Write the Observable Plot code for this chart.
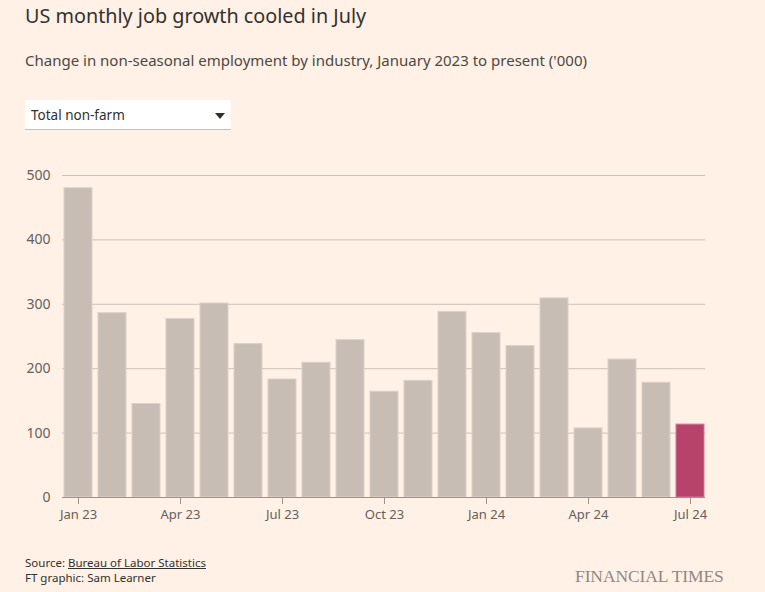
<!DOCTYPE html>
<html>
<head>
<meta charset="utf-8">
<script src="https://cdn.jsdelivr.net/npm/d3@7"></script>
<script src="https://cdn.jsdelivr.net/npm/@observablehq/plot@0.6"></script>
<style>
  html, body { margin: 0; padding: 0; background: #fff1e5; width: 765px; height: 592px; overflow: hidden; }
  body { position: relative; font-family: "Noto Sans", "Open Sans", sans-serif; color: #33302e; }
  #title { position: absolute; left: 25px; top: 2px; font-size: 19.8px; color: #33302e; white-space: nowrap; }
  #subtitle { position: absolute; left: 25px; top: 50px; font-size: 15px; color: #4d4845; white-space: nowrap; }
  #dropdown { position: absolute; left: 25px; top: 100px; width: 206px; height: 30px; background: #ffffff; border-bottom: 1px solid #c9bfb7; box-sizing: border-box; }
  #dropdown span { position: absolute; left: 6px; top: 6px; font-size: 13.5px; color: #33302e; }
  #dropdown i { position: absolute; right: 6px; top: 13px; width: 0; height: 0; border-left: 5px solid transparent; border-right: 5px solid transparent; border-top: 6px solid #33302e; }
  #chart { position: absolute; left: 0; top: 160px; }
  #source { position: absolute; left: 25px; top: 555px; font-size: 11.5px; color: #33302e; line-height: 15px; }
  #source a { color: #33302e; text-decoration: underline; }
  #ftlogo { position: absolute; left: 575px; top: 566px; font-family: "Liberation Serif", "DejaVu Serif", serif; font-size: 17.5px; color: #8f8884; letter-spacing: -0.1px; white-space: nowrap; }
</style>
</head>
<body>
<div id="title">US monthly job growth cooled in July</div>
<div id="subtitle">Change in non-seasonal employment by industry, January 2023 to present ('000)</div>
<div id="dropdown"><span>Total non-farm</span><i></i></div>
<div id="chart"></div>
<div id="source">Source: <a>Bureau of Labor Statistics</a><br>FT graphic: Sam Learner</div>
<div id="ftlogo">FINANCIAL TIMES</div>
<script>
const months = ["Jan 23","Feb 23","Mar 23","Apr 23","May 23","Jun 23","Jul 23","Aug 23","Sep 23","Oct 23","Nov 23","Dec 23",
                "Jan 24","Feb 24","Mar 24","Apr 24","May 24","Jun 24","Jul 24"];
const jobs = [481, 287, 146, 278, 302, 239, 184, 210, 245, 165, 182, 289, 256, 236, 310, 108, 215, 179, 114];
const xTickLabels = ["Jan 23","Apr 23","Jul 23","Oct 23","Jan 24","Apr 24","Jul 24"];
const yTicks = [0, 100, 200, 300, 400, 500];
const highlightMonth = "Jul 24";

const data = months.map((m, i) => ({month: m, value: jobs[i], hi: m === highlightMonth}));

const chart = Plot.plot({
  width: 765,
  height: 370,
  marginLeft: 62,
  marginRight: 60,
  marginTop: 15,
  marginBottom: 33,
  style: {background: "transparent", fontFamily: "'Noto Sans', sans-serif", fontSize: "13px", color: "#66605c"},
  x: {domain: months, paddingInner: 0.19, paddingOuter: 0.05, label: null, ticks: xTickLabels},
  y: {domain: [0, 500], label: null, ticks: yTicks},
  marks: [
    Plot.ruleY(yTicks.filter(d => d > 0), {stroke: "#cdc1b7", strokeWidth: 1}),
    Plot.barY(data, {x: "month", y: "value", fill: d => d.hi ? "#b8436a" : "#c7bdb4", stroke: d => d.hi ? "#d17c98" : "#dcd2ca", strokeWidth: 1, insetTop: 0.5}),
    Plot.ruleY([0], {stroke: "#9e938b", strokeWidth: 1}),
    Plot.axisY({ticks: yTicks, tickSize: 0, tickPadding: 12, fill: "#66605c", fontSize: 14}),
    Plot.axisX({ticks: xTickLabels, tickSize: 7, tickPadding: 5, stroke: "#9e938b", fill: "#66605c", fontSize: 13})
  ]
});
document.getElementById("chart").appendChild(chart);
</script>
</body>
</html>
